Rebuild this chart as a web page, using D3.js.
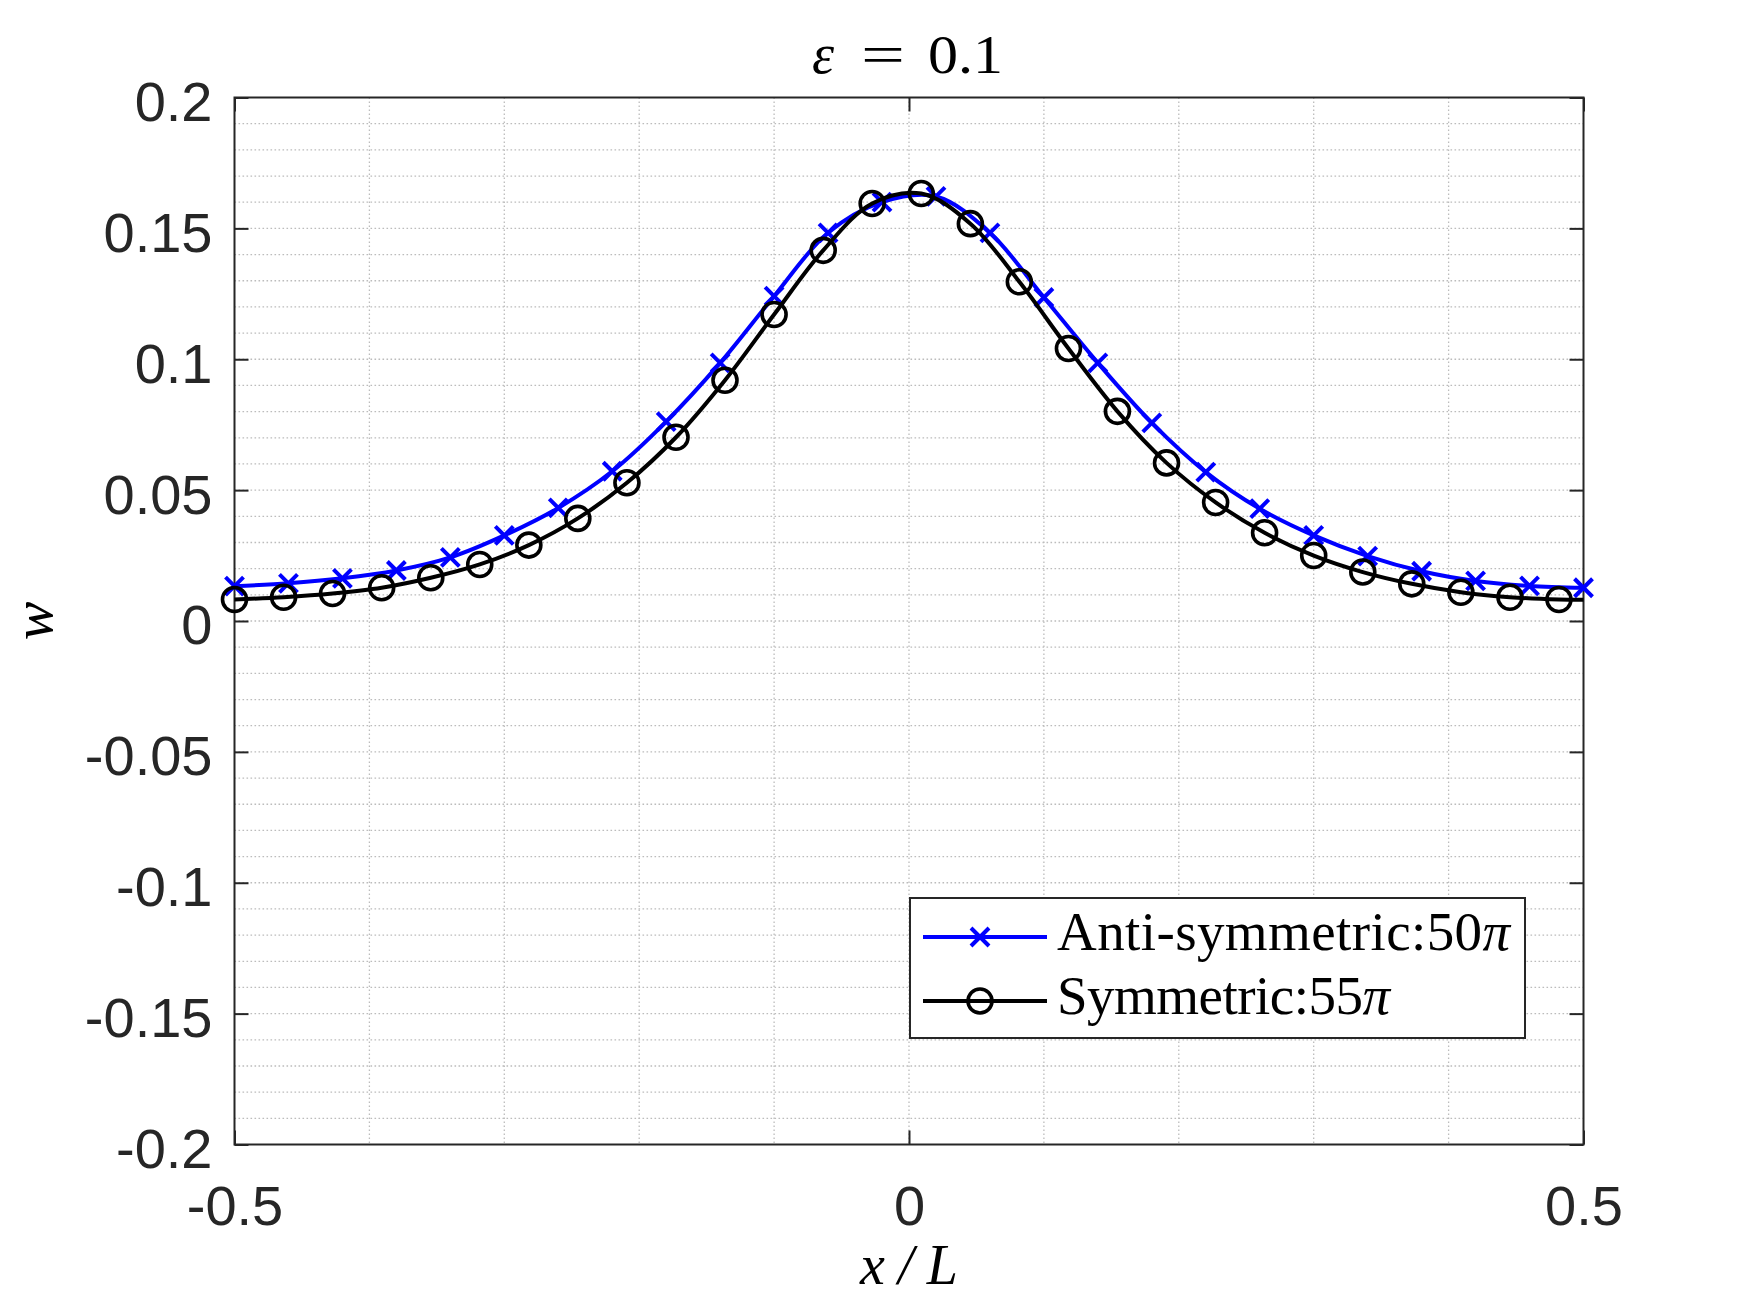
<!DOCTYPE html>
<html><head><meta charset="utf-8">
<script src="https://cdn.jsdelivr.net/npm/d3@7"></script>
<style>body{margin:0;background:#fff}</style>
</head><body><svg id="c" width="1750" height="1313"></svg>
<script>
// ---- data ----
const antiX = [-0.50,-0.46,-0.42,-0.38,-0.34,-0.30,-0.26,-0.22,-0.18,-0.14,-0.10,-0.06,-0.02,
               0.02,0.06,0.10,0.14,0.18,0.22,0.26,0.30,0.34,0.38,0.42,0.46,0.50];
const antiY = [0.0133,0.0144,0.0163,0.0193,0.0243,0.0327,0.0432,0.0572,0.0762,0.0986,0.1241,0.1483,0.1600,
               0.1622,0.1483,0.1236,0.0986,0.0757,0.0569,0.0429,0.0327,0.0248,0.0190,0.0153,0.0134,0.0127];
const symX = [-0.5,-0.4636,-0.4273,-0.3909,-0.3545,-0.3182,-0.2818,-0.2455,-0.2091,-0.1727,-0.1364,
              -0.1,-0.0636,-0.0273,0.0091,0.0455,0.0818,0.1182,0.1545,0.1909,0.2273,0.2636,0.3,
              0.3364,0.3727,0.4091,0.4455,0.4818];
const symY = [0.0082,0.0091,0.0105,0.0127,0.0165,0.0216,0.0290,0.0392,0.0528,0.0702,0.0920,
              0.1171,0.1416,0.1595,0.1633,0.1518,0.1296,0.1041,0.0801,0.0604,0.0453,0.0337,0.0250,
              0.0187,0.0142,0.0110,0.0091,0.0082];
const symLineEnd = [0.5, 0.0081];   // line continues to the right edge (no marker)
const xTicks = [-0.5, 0, 0.5];
const xTickLabels = ["-0.5", "0", "0.5"];
const yTicks = [-0.2,-0.15,-0.1,-0.05,0,0.05,0.1,0.15,0.2];
const yTickLabels = ["-0.2","-0.15","-0.1","-0.05","0","0.05","0.1","0.15","0.2"];
const xGrid = [-0.4,-0.3,-0.2,-0.1,0,0.1,0.2,0.3,0.4];
const yGrid = d3.range(-19, 20).map(i => i / 100);
const seriesNames = ["Anti-symmetric:50", "Symmetric:55"];
const seriesColors = ["#0000ff", "#000000"];

// ---- layout ----
const svg = d3.select("#c");
const L = 234.5, R = 1583.5, T = 97.5, B = 1144.5;
const x = d3.scaleLinear().domain([-0.5, 0.5]).range([L, R]);
const y = d3.scaleLinear().domain([-0.2, 0.2]).range([B, T]);
const axisCol = "#262626";
const tickFont = "'Liberation Sans', Arial, sans-serif";
const serif = "'Liberation Serif', 'Times New Roman', serif";

svg.append("rect").attr("x", 0).attr("y", 0).attr("width", 1750).attr("height", 1313).attr("fill", "#fff");

// grid
const g = svg.append("g").attr("stroke", "#bcbcbc").attr("stroke-width", 1.3).attr("stroke-dasharray", "1.6,2.4");
g.selectAll("line.v").data(xGrid).join("line").attr("class", "v")
  .attr("x1", d => x(d)).attr("x2", d => x(d)).attr("y1", T).attr("y2", B);
g.selectAll("line.h").data(yGrid).join("line").attr("class", "h")
  .attr("x1", L).attr("x2", R).attr("y1", d => y(d)).attr("y2", d => y(d));

// axes
function styleAxis(sel) {
  sel.select(".domain").remove();
  sel.selectAll(".tick line").attr("stroke", axisCol).attr("stroke-width", 2);
  sel.selectAll(".tick text").attr("fill", axisCol).style("font-family", tickFont).style("font-size", "56px");
}
const yl = svg.append("g").attr("transform", `translate(${L},0)`)
  .call(d3.axisLeft(y).tickValues(yTicks).tickSize(-14).tickPadding(22)
        .tickFormat((d, i) => yTickLabels[i]));
styleAxis(yl); yl.selectAll(".tick text").attr("dy", "0.41em");
const yr = svg.append("g").attr("transform", `translate(${R},0)`)
  .call(d3.axisRight(y).tickValues(yTicks).tickSize(-14).tickFormat(""));
styleAxis(yr);
const xb = svg.append("g").attr("transform", `translate(0,${B})`)
  .call(d3.axisBottom(x).tickValues(xTicks).tickSize(-14).tickPadding(41)
        .tickFormat((d, i) => xTickLabels[i]));
styleAxis(xb);
const xt = svg.append("g").attr("transform", `translate(0,${T})`)
  .call(d3.axisTop(x).tickValues(xTicks).tickSize(-14).tickFormat(""));
styleAxis(xt);

svg.append("rect").attr("x", L).attr("y", T).attr("width", R - L).attr("height", B - T)
  .attr("fill", "none").attr("stroke", axisCol).attr("stroke-width", 2);

// series
const line = d3.line().x(d => x(d[0])).y(d => y(d[1])).curve(d3.curveCatmullRom.alpha(0.5));
const antiPts = antiX.map((v, i) => [v, antiY[i]]);
const symPts = symX.map((v, i) => [v, symY[i]]);

svg.append("path").datum(antiPts).attr("d", line).attr("fill", "none")
  .attr("stroke", seriesColors[0]).attr("stroke-width", 4);
const cross = "M-9,-9L9,9M-9,9L9,-9";
svg.append("g").selectAll("path").data(antiPts).join("path")
  .attr("transform", d => `translate(${x(d[0])},${y(d[1])})`)
  .attr("d", cross).attr("stroke", seriesColors[0]).attr("stroke-width", 4).attr("fill", "none");

svg.append("path").datum(symPts.concat([symLineEnd])).attr("d", line).attr("fill", "none")
  .attr("stroke", seriesColors[1]).attr("stroke-width", 4);
svg.append("g").selectAll("circle").data(symPts).join("circle")
  .attr("cx", d => x(d[0])).attr("cy", d => y(d[1])).attr("r", 12)
  .attr("fill", "none").attr("stroke", seriesColors[1]).attr("stroke-width", 3.6);

// legend
const lg = svg.append("g");
lg.append("rect").attr("x", 910).attr("y", 898).attr("width", 615).attr("height", 140)
  .attr("fill", "#fff").attr("stroke", axisCol).attr("stroke-width", 2);
const rowsY = [937, 1001];
const textLens = [453, 333];
seriesNames.forEach((name, i) => {
  const yy = rowsY[i];
  lg.append("line").attr("x1", 923).attr("x2", 1047).attr("y1", yy).attr("y2", yy)
    .attr("stroke", seriesColors[i]).attr("stroke-width", 4);
  if (i === 0) {
    lg.append("path").attr("transform", `translate(980,${yy})`).attr("d", cross)
      .attr("stroke", seriesColors[i]).attr("stroke-width", 4);
  } else {
    lg.append("circle").attr("cx", 980).attr("cy", yy).attr("r", 12).attr("fill", "none")
      .attr("stroke", seriesColors[i]).attr("stroke-width", 3.6);
  }
  const t = lg.append("text").attr("x", 1057).attr("y", yy + 13)
    .style("font-family", serif).style("font-size", "55px").attr("fill", "#000")
    .attr("textLength", textLens[i]).attr("lengthAdjust", "spacing");
  t.append("tspan").text(name);
  t.append("tspan").style("font-style", "italic").text("π");
});

// title: ε = 0.1 (math-style spacing)
const tg = svg.append("g").style("font-family", serif).attr("fill", "#000");
tg.append("text").attr("x", 812).attr("y", 73).style("font-size", "56px").style("font-style", "italic").text("ε");
tg.append("text").attr("x", 861).attr("y", 73).style("font-size", "54px")
  .attr("textLength", 44).attr("lengthAdjust", "spacingAndGlyphs").text("=");
tg.append("text").attr("x", 928).attr("y", 73).style("font-size", "54px")
  .attr("textLength", 75).attr("lengthAdjust", "spacingAndGlyphs").text("0.1");

// axis labels
svg.append("text").attr("x", 860).attr("y", 1284)
  .style("font-family", serif).style("font-size", "56px").style("font-style", "italic")
  .attr("textLength", 98).attr("lengthAdjust", "spacing")
  .attr("fill", "#000").text("x/L");
svg.append("text").attr("transform", `translate(52,${y(0)}) rotate(-90)`).attr("text-anchor", "middle")
  .style("font-family", serif).style("font-size", "58px").style("font-style", "italic")
  .attr("fill", "#000").text("w");
</script></body></html>
